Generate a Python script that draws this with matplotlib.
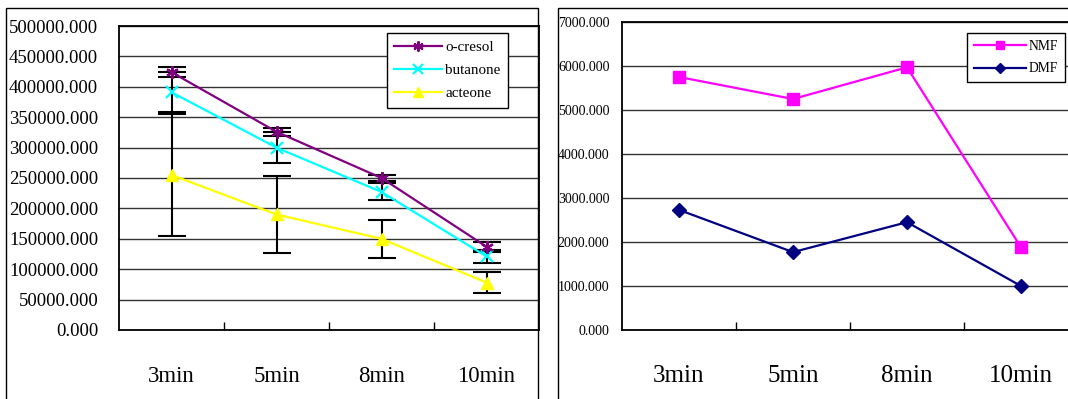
import numpy as np
import matplotlib
matplotlib.use("Agg")
import matplotlib.pyplot as plt
from matplotlib.patches import Rectangle
from matplotlib.ticker import FormatStrFormatter

plt.rcParams["font.family"] = ["Liberation Serif", "DejaVu Serif"]

times = ["3min", "5min", "8min", "10min"]

# left chart: peak areas with error bars
o_cresol = [424000, 326000, 250000, 137000]
o_cresol_err = [8000, 7000, 5000, 8000]
butanone = [391000, 300000, 227000, 121000]
butanone_err = [33000, 26000, 14000, 11000]
acetone = [255000, 190000, 150000, 78000]
acetone_err = [100000, 64000, 31000, 17000]

# right chart
nmf = [5750, 5250, 5970, 1880]
dmf = [2730, 1770, 2450, 1000]

W, H = 1068, 399


def px_axes(left, right, top, bottom):
    return [left / W, 1 - bottom / H, (right - left) / W, (bottom - top) / H]


def style_axes(ax, ymax, ystep, ysize, ypad, xsize, xpad):
    n = len(times)
    ax.set_xlim(0, n)
    ax.set_ylim(0, ymax)
    ax.set_yticks(np.arange(0, ymax + 1, ystep))
    ax.yaxis.set_major_formatter(FormatStrFormatter("%.3f"))
    ax.grid(axis="y", color="#333333", lw=1)
    ax.set_axisbelow(True)
    ax.set_xticks([i + 0.5 for i in range(n)])
    ax.set_xticklabels(times)
    ax.set_xticks(range(1, n), minor=True)
    ax.tick_params(axis="x", which="major", length=0, pad=xpad, labelsize=xsize)
    ax.tick_params(axis="x", which="minor", direction="in", length=6, width=1)
    ax.tick_params(axis="y", length=0, pad=ypad, labelsize=ysize)
    for s in ax.spines.values():
        s.set_linewidth(1.3)
        s.set_color("black")


fig = plt.figure(figsize=(W / 100, H / 100), dpi=100)

# outer chart frames
fig.add_artist(Rectangle((6 / W, -0.1), (538 - 6) / W, 1.1 - 8 / H,
                         transform=fig.transFigure, fill=False, ec="black", lw=1))
fig.add_artist(Rectangle((558 / W, -0.1), 0.5, 1.1 - 8 / H,
                         transform=fig.transFigure, fill=False, ec="black", lw=1))

# ---- left chart
ax1 = fig.add_axes(px_axes(119, 539, 26, 330))
x = np.arange(len(times)) + 0.5
for vals, errs in [(o_cresol, o_cresol_err), (butanone, butanone_err), (acetone, acetone_err)]:
    ax1.errorbar(x, vals, yerr=errs, fmt="none", ecolor="black",
                 elinewidth=1.5, capsize=10, capthick=1.5, zorder=3)
ax1.plot(x, o_cresol, color="#800080", lw=1.6, marker=(6, 2, 0), ms=9,
         mew=1.6, label="o-cresol", zorder=6)
ax1.plot(x, butanone, color="#00FFFF", lw=1.6, marker="x", ms=9,
         mew=1.6, label="butanone", zorder=5)
ax1.plot(x, acetone, color="#FFFF00", lw=1.6, marker="^", ms=9,
         label="acteone", zorder=4)
style_axes(ax1, 500000, 50000, 13.5, 15, 16.5, 26)
leg1 = ax1.legend(loc="upper left", bbox_to_anchor=(0.638, 0.977), fontsize=10.8,
                  frameon=True, fancybox=False, framealpha=1, edgecolor="black",
                  handlelength=3.2, handletextpad=0.2, labelspacing=0.65,
                  borderpad=0.5, borderaxespad=0, markerscale=0.8)
leg1.get_frame().set_linewidth(1)

# ---- right chart
ax2 = fig.add_axes(px_axes(622, 1078, 22, 330))
ax2.plot(x, nmf, color="#FF00FF", lw=1.6, marker="s", ms=8, label="NMF", zorder=4)
ax2.plot(x, dmf, color="#000080", lw=1.6, marker="D", ms=7, label="DMF", zorder=5)
style_axes(ax2, 7000, 1000, 10, 9, 18, 25)
leg2 = ax2.legend(loc="upper left", bbox_to_anchor=(0.757, 0.964), fontsize=9.8,
                  frameon=True, fancybox=False, framealpha=1, edgecolor="black",
                  handlelength=3.8, handletextpad=0.2, labelspacing=0.7,
                  borderpad=0.5, borderaxespad=0, markerscale=0.75)
leg2.get_frame().set_linewidth(1)

fig.savefig("out.png", dpi=100)
